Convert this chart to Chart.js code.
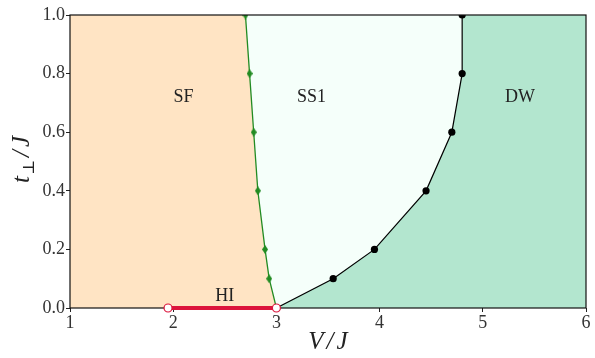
<!DOCTYPE html>
<html><head><meta charset="utf-8">
<script src="https://cdn.jsdelivr.net/npm/chart.js@4"></script>
<style>html,body{margin:0;padding:0;background:#fff}</style>
</head><body>
<canvas id="c" width="595" height="358"></canvas>
<script>
// ---- data ----
const greenV = [2.70, 2.74, 2.78, 2.82, 2.89, 2.93, 3.00];   // SF / SS1 boundary
const greenT = [1.0, 0.8, 0.6, 0.4, 0.2, 0.1, 0.0];
const blackV = [3.00, 3.55, 3.95, 4.45, 4.70, 4.80, 4.80];   // SS1 / DW boundary
const blackT = [0.0, 0.1, 0.2, 0.4, 0.6, 0.8, 1.0];
const hiV = [1.95, 3.00];                                     // HI segment
const hiT = [0.0, 0.0];
const xTickValues = [1, 2, 3, 4, 5, 6];
const xTickLabels = ['1', '2', '3', '4', '5', '6'];
const yTickValues = [0.0, 0.2, 0.4, 0.6, 0.8, 1.0];
const yTickLabels = ['0.0', '0.2', '0.4', '0.6', '0.8', '1.0'];
const phaseNames = ['SF', 'SS1', 'DW', 'HI'];
const phaseV = [2.1, 3.34, 5.36, 2.5];
const phaseT = [0.72, 0.72, 0.72, 0.04];
const xMin = 1, xMax = 6, yMin = 0, yMax = 1;

const pts = (xs, ys) => xs.map((x, i) => ({x, y: ys[i]}));
const green = pts(greenV, greenT);
const black = pts(blackV, blackT);
const hi = pts(hiV, hiT);

const sfPoly = [{x: xMin, y: yMin}, {x: xMin, y: yMax}, ...green];
const ss1Poly = [...green, ...black];
const dwPoly = [...black, {x: xMax, y: yMax}, {x: xMax, y: yMin}];

function thinDiamond(w, h, color) {
  const c = document.createElement('canvas');
  c.width = w; c.height = h;
  const g = c.getContext('2d');
  g.fillStyle = color;
  g.beginPath();
  g.moveTo(w / 2, 0); g.lineTo(w, h / 2); g.lineTo(w / 2, h); g.lineTo(0, h / 2);
  g.closePath(); g.fill();
  return c;
}
const diamond = thinDiamond(6, 9, '#228B22');

const SERIF = '"Liberation Serif", "DejaVu Serif", serif';
const tickFont = {family: SERIF, size: 18};

const poly = (data, color) => ({
  data, showLine: true, fill: 'shape', backgroundColor: color,
  borderColor: 'rgba(0,0,0,0)', borderWidth: 0, pointRadius: 0, tension: 0
});

const framePlugin = {
  id: 'frame',
  afterDatasetDraw(chart, args) {
    if (args.index !== 1) return;
    const {ctx, chartArea: a} = chart;
    ctx.save();
    ctx.strokeStyle = '#111';
    ctx.lineWidth = 1.2;
    ctx.strokeRect(a.left, a.top, a.right - a.left, a.bottom - a.top);
    ctx.restore();
  }
};

const textPlugin = {
  id: 'texts',
  afterDraw(chart) {
    const {ctx, scales: {x, y}, chartArea: a} = chart;
    ctx.save();
    ctx.fillStyle = '#222';
    ctx.font = '18px ' + SERIF;
    ctx.textAlign = 'center';
    ctx.textBaseline = 'middle';
    phaseNames.forEach((n, i) => {
      ctx.fillText(n, x.getPixelForValue(phaseV[i]), y.getPixelForValue(phaseT[i]));
    });
    // axis titles
    const drawParts = (parts, cx, cy) => {
      let total = 0;
      parts.forEach(p => { ctx.font = p.font; p.w = ctx.measureText(p.t).width; total += p.w + (p.gap || 0); });
      let cur = cx - total / 2;
      ctx.textAlign = 'left';
      ctx.textBaseline = 'alphabetic';
      parts.forEach(p => { ctx.font = p.font; ctx.fillText(p.t, cur, cy + (p.dy || 0)); cur += p.w + (p.gap || 0); });
    };
    const it = 'italic 25px ' + SERIF;
    drawParts([{t: 'V', font: it, gap: 3}, {t: '/', font: it, gap: 3}, {t: 'J', font: it}],
      (a.left + a.right) / 2, 349);
    ctx.save();
    ctx.translate(29, (a.top + a.bottom) / 2 - 2);
    ctx.rotate(-Math.PI / 2);
    drawParts([{t: 't', font: it, gap: 1}, {t: '\u22A5', font: '16px ' + SERIF, dy: 5, gap: 3},
      {t: '/', font: it, gap: 3}, {t: 'J', font: it}], 0, 0);
    ctx.restore();
    ctx.restore();
  }
};

const axisCommon = {
  type: 'linear',
  grid: {display: true, drawOnChartArea: false, drawTicks: true, tickLength: 4, color: '#222', lineWidth: 1},
  border: {display: false},
};

new Chart(document.getElementById('c'), {
  type: 'scatter',
  data: {
    datasets: [
      { // HI
        data: hi, showLine: true, borderColor: '#DC143C', borderWidth: 4, clip: false,
        pointRadius: 4, pointBackgroundColor: '#fff', pointBorderColor: '#DC143C', pointBorderWidth: 1.2
      },
      { // green boundary
        data: green, showLine: true, borderColor: '#228B22', borderWidth: 1.3, clip: 0,
        pointStyle: c => c.dataIndex === greenV.length - 1 ? false : diamond,
        pointRadius: c => c.dataIndex === greenV.length - 1 ? 0 : 4
      },
      { // black boundary
        data: black, showLine: true, borderColor: '#000', borderWidth: 1.2, clip: 0,
        pointRadius: c => c.dataIndex === 0 ? 0 : 3.6, pointBackgroundColor: '#000', pointBorderWidth: 0
      },
      poly(dwPoly, '#B3E6CF'),
      poly(ss1Poly, '#F5FFFA'),
      poly(sfPoly, '#FFE4C4')
    ]
  },
  options: {
    responsive: false, animation: false, devicePixelRatio: 1,
    layout: {padding: {left: 0, right: 9, top: 15, bottom: 0}},
    plugins: {legend: {display: false}, tooltip: {enabled: false}},
    scales: {
      x: {...axisCommon, min: xMin, max: xMax,
        afterBuildTicks: s => { s.ticks = xTickValues.map(v => ({value: v})); },
        afterFit: s => { s.height = 50; },
        ticks: {font: tickFont, color: '#333', padding: 0, maxRotation: 0, autoSkip: false,
          callback: (v, i) => xTickLabels[i]}
      },
      y: {...axisCommon, min: yMin, max: yMax,
        afterBuildTicks: s => { s.ticks = yTickValues.map(v => ({value: v})); },
        afterFit: s => { s.width = 70; },
        ticks: {font: tickFont, color: '#333', padding: 1, autoSkip: false,
          callback: (v, i) => yTickLabels[i]}
      }
    }
  },
  plugins: [framePlugin, textPlugin]
});
</script>
</body></html>
